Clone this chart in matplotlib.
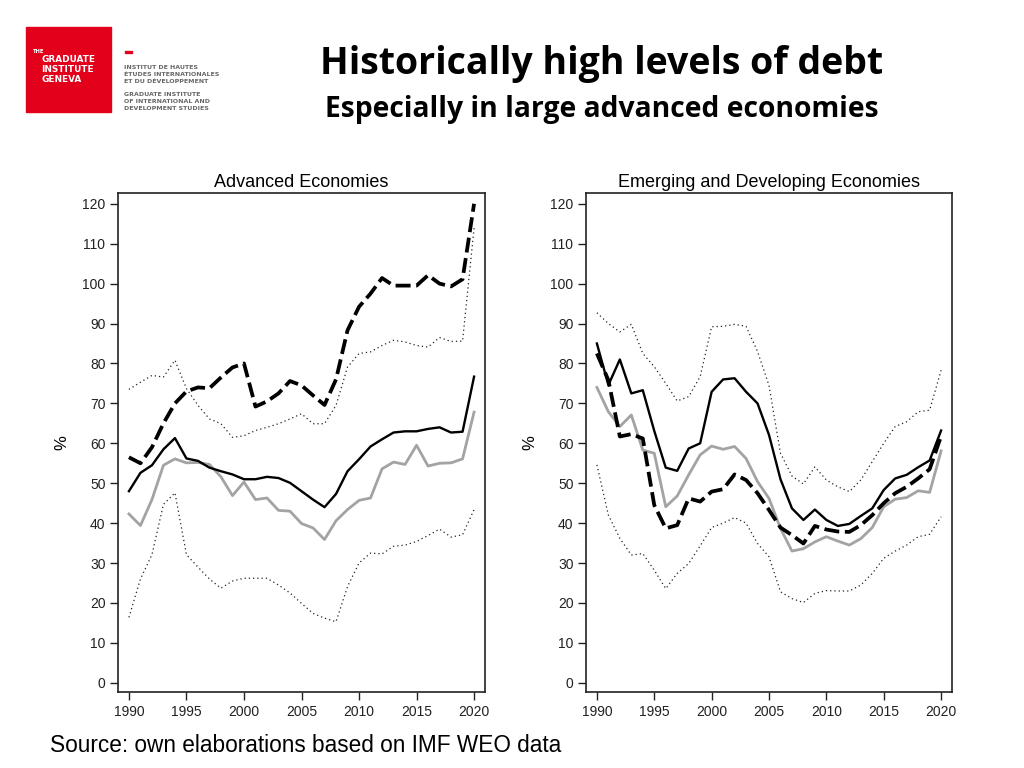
import numpy as np
import matplotlib
matplotlib.use('Agg')
import matplotlib.pyplot as plt
from matplotlib.patches import Rectangle

years = list(range(1990, 2021))

# Advanced economies
adv_dashed = [56.5, 55, 59, 65, 70, 73, 74, 73.8, 76.5, 79, 80, 69.2, 70.5, 72.5, 75.6, 74.5,
              72, 69.6, 76, 88.3, 94.2, 97.5, 101.4, 99.5, 99.5, 99.5, 102.1, 100, 99.3, 101.1, 120]
adv_upper = [73.5, 75.3, 77, 76.6, 80.8, 73.7, 69.5, 66.1, 64.9, 61.5, 61.9, 63.2, 64, 64.9, 66.1, 67.4,
             64.9, 64.9, 69.5, 79.1, 82.5, 82.9, 84.5, 85.8, 85.4, 84.5, 84.1, 86.5, 85.5, 85.6, 113.9]
adv_solid = [48, 52.6, 54.5, 58.5, 61.3, 56.2, 55.6, 53.9, 53, 52.2, 51, 51, 51.6, 51.3, 50.1, 48,
             45.9, 44, 47.3, 53, 56, 59.2, 61, 62.7, 63, 63, 63.6, 64, 62.7, 62.9, 76.7]
adv_gray = [42.3, 39.4, 45.9, 54.5, 56.1, 55.1, 55.2, 54.7, 51.6, 46.9, 50.3, 45.9, 46.3, 43.2, 43, 39.9,
            38.8, 35.9, 40.6, 43.4, 45.7, 46.3, 53.6, 55.3, 54.7, 59.5, 54.3, 55, 55.1, 56.1, 67.8]
adv_lower = [16.4, 26, 32.1, 44.7, 47.6, 32.1, 29, 26, 23.7, 25.5, 26.2, 26.2, 26.2, 24.5, 22.5, 19.9,
             17.4, 16.2, 15.3, 24.1, 30, 32.5, 32.3, 34.2, 34.5, 35.4, 36.9, 38.5, 36.5, 37.1, 43.4]

# Emerging and developing economies
em_solid = [85, 74.6, 81, 72.5, 73.3, 63.1, 53.9, 53.1, 58.7, 60, 72.9, 76, 76.3, 72.9, 70, 62.1,
            51, 43.7, 40.8, 43.4, 40.8, 39.3, 39.8, 41.8, 43.7, 48.3, 51.2, 52.1, 54, 55.7, 63.2]
em_dashed = [82.5, 75.8, 61.7, 62.3, 61.2, 44.5, 38.7, 39.5, 46.2, 45.4, 47.9, 48.5, 52.2, 50.8, 47.5, 43.3,
             38.9, 37, 34.9, 39.3, 38.4, 37.9, 37.8, 39.5, 42, 45, 47.5, 49.1, 51.2, 53.5, 61.8]
em_gray = [74, 67.9, 64.2, 67.1, 58.3, 57.5, 44.1, 46.8, 52.1, 57.1, 59.3, 58.5, 59.2, 56.2, 50.4, 46.2,
           38.7, 33, 33.6, 35.3, 36.6, 35.5, 34.5, 36.1, 38.9, 44.1, 46, 46.4, 48.1, 47.7, 58.1]
em_upper = [92.7, 90, 87.9, 89.8, 82.5, 79.2, 75, 70.6, 71.7, 76.7, 89.2, 89.3, 89.8, 89.3, 83, 74.5,
            57.5, 51.8, 49.8, 54.1, 50.8, 49.1, 47.9, 50.8, 55.4, 60, 64.2, 65.4, 67.9, 68.3, 78.3]
em_lower = [54.6, 42, 36.2, 32, 32.4, 28.2, 23.6, 27.4, 29.9, 34.3, 38.9, 40, 41.4, 40, 34.9, 31.6,
            22.8, 21.1, 20.1, 22.4, 23.1, 23, 23, 24.5, 27.4, 31.2, 33, 34.5, 36.6, 37.2, 41.6]

x_ticks = [1990, 1995, 2000, 2005, 2010, 2015, 2020]
y_ticks = list(range(0, 121, 10))

matplotlib.rcParams['font.family'] = ['Liberation Sans', 'DejaVu Sans']

W, H = 1024.0, 768.0


def panel(ax, title, upper, lower, gray, solid, dashed):
    ax.plot(years, upper, color='#222222', lw=0.9, linestyle=(0, (1, 2.4)))
    ax.plot(years, lower, color='#222222', lw=0.9, linestyle=(0, (1, 2.4)))
    ax.plot(years, gray, color='#a3a3a3', lw=2.0)
    ax.plot(years, solid, color='black', lw=1.7)
    ax.plot(years, dashed, color='black', lw=2.7, linestyle=(0, (4, 1.5)))

    ax.set_xlim(1989.05, 2020.95)
    ax.set_ylim(-2.3, 122.7)
    ax.set_xticks(x_ticks)
    ax.set_yticks(y_ticks)
    ax.tick_params(direction='out', length=6, width=1, labelsize=10, pad=3, colors='#222222')
    for s in ax.spines.values():
        s.set_linewidth(1.2)
        s.set_color('#222222')
    ax.set_title(title, fontsize=13, pad=4)
    ax.set_ylabel('%', fontsize=12, labelpad=9)


fig = plt.figure(figsize=(10.24, 7.68), dpi=100)

ax1 = fig.add_axes([118 / W, 76 / H, 367 / W, 499 / H])
panel(ax1, 'Advanced Economies', adv_upper, adv_lower, adv_gray, adv_solid, adv_dashed)

ax2 = fig.add_axes([586 / W, 76 / H, 366 / W, 499 / H])
panel(ax2, 'Emerging and Developing Economies', em_upper, em_lower, em_gray, em_solid, em_dashed)

# header
fig.text(601.5 / W, 1 - 64 / H, 'Historically high levels of debt', family='Open Sans',
         weight='bold', fontsize=27, ha='center', va='center')
fig.text(601.5 / W, 1 - 110 / H, 'Especially in large advanced economies', family='Open Sans',
         weight='bold', fontsize=20.3, ha='center', va='center')

# logo
fig.patches.append(Rectangle((25.7 / W, 1 - 111.7 / H), 85 / W, 85 / H,
                             transform=fig.transFigure, color='#e2001a'))
fig.text(32 / W, 1 - 51.5 / H, 'THE', color='white', weight='bold', fontsize=3.8, va='center',
         family='DejaVu Sans')
for i, t in enumerate(['GRADUATE', 'INSTITUTE', 'GENEVA']):
    fig.text(41.5 / W, 1 - (59.3 + 10 * i) / H, t, color='white', weight='bold',
             fontsize=6.4, va='center', family='DejaVu Sans')
fig.patches.append(Rectangle((125 / W, 1 - 53.3 / H), 7 / W, 2 / H,
                             transform=fig.transFigure, color='#e2001a'))
logo_lines = ['INSTITUT DE HAUTES', 'ÉTUDES INTERNATIONALES', 'ET DU DÉVELOPPEMENT',
              'GRADUATE INSTITUTE', 'OF INTERNATIONAL AND', 'DEVELOPMENT STUDIES']
logo_y = [67.7, 74.5, 81.7, 94, 101.3, 108.8]
for t, yy in zip(logo_lines, logo_y):
    fig.text(124.3 / W, 1 - yy / H, t, color='#666666', weight='bold', fontsize=4.5,
             va='center', family='DejaVu Sans')

# source
fig.text(50 / W, 1 - 746 / H, 'Source: own elaborations based on IMF WEO data',
         fontsize=16.3, va='center', ha='left')

plt.savefig('out.png', dpi=100)
